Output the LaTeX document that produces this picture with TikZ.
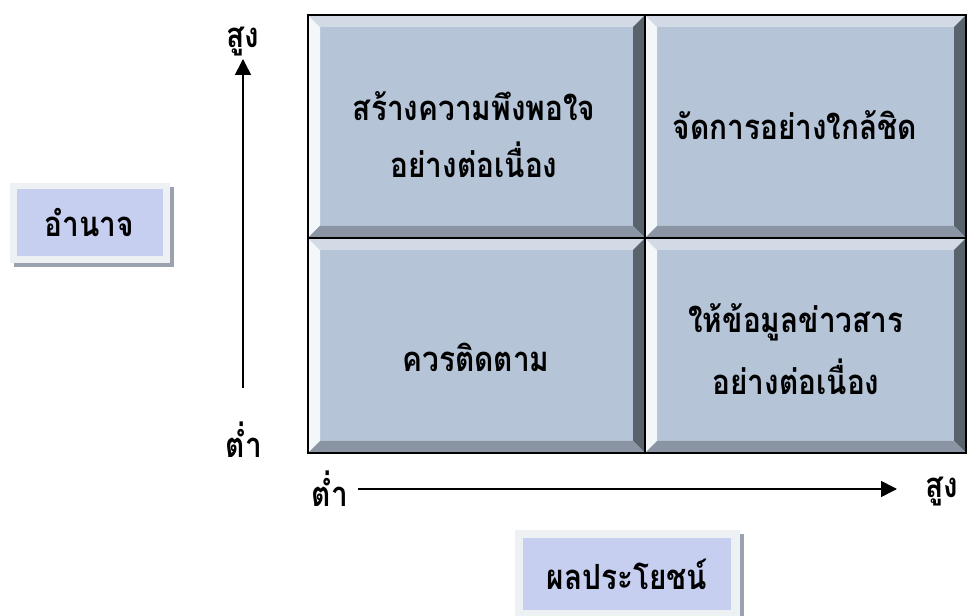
\documentclass[tikz,border=0pt]{standalone}
\usepackage{fontspec}
\newfontfamily\thaifont[Script=Thai,FakeStretch=0.86]{Loma}
\usetikzlibrary{arrows.meta}
\definecolor{tilefill}{HTML}{B5C5D7}
\definecolor{bevlight}{HTML}{F4F7FA}
\definecolor{bevtop}{HTML}{D2DBE5}
\definecolor{bevright}{HTML}{5A626C}
\definecolor{bevbottom}{HTML}{8A94A2}
\definecolor{labfill}{HTML}{C6CFF0}
\definecolor{labframe}{HTML}{EEF1F4}
\definecolor{labshadow}{HTML}{9AA2B0}
\tikzset{
  txt/.style={font=\thaifont\bfseries\fontsize{26}{32}\selectfont, text=black, align=center, inner sep=0pt},
  axis/.style={line width=1.2pt, -{Triangle[length=12pt,width=12pt]}},
}
\newcommand\bevtile[4]{% x1 y1 x2 y2 (px, y down)
  \fill[tilefill] (#1,#2) rectangle (#3,#4);
  \fill[bevlight] (#1,#2) -- (#1+12,#2+12) -- (#1+12,#4-12) -- (#1,#4) -- cycle;
  \fill[bevtop] (#1,#2) -- (#3,#2) -- (#3-12,#2+12) -- (#1+12,#2+12) -- cycle;
  \fill[bevright] (#3,#2) -- (#3,#4) -- (#3-12,#4-12) -- (#3-12,#2+12) -- cycle;
  \fill[bevbottom] (#1,#4) -- (#3,#4) -- (#3-12,#4-12) -- (#1+12,#4-12) -- cycle;
}
\begin{document}
\begin{tikzpicture}[x=0.75pt,y=-0.75pt]
\useasboundingbox (0,0) rectangle (968,616);
\fill[white] (0,0) rectangle (968,616);
% tiles
\bevtile{308}{15}{645}{238}
\bevtile{645}{15}{966}{238}
\bevtile{308}{238}{645}{453}
\bevtile{645}{238}{966}{453}
\draw[line width=1.5pt] (308,15) rectangle (966,453);
\draw[line width=1.5pt] (645,15) -- (645,453);
\draw[line width=1.5pt] (308,238) -- (966,238);
% quadrant texts
\node[txt] (q1a) at (474,106) {สร้างความพึงพอใจ};
\node[txt] (q1b) at (474,160) {อย่างต่อเนื่อง};
\node[txt] (q2) at (795,125) {จัดการอย่างใกล้ชิด};
\node[txt] (q3) at (476,357) {ควรติดตาม};
\node[txt] (q4a) at (796,322) {ให้ข้อมูลข่าวสาร};
\node[txt] (q4b) at (796,377) {อย่างต่อเนื่อง};
% y axis
\node[txt] (yhi) at (243,42) {สูง};
\node[txt] (ylo) at (244,440) {ต่ำ};
\coordinate (ys) at (243,388);
\coordinate (ye) at (243,59);
\draw[axis] (ys) -- (ye);
% x axis
\node[txt] (xlo) at (330,489) {ต่ำ};
\node[txt] (xhi) at (942,492) {สูง};
\coordinate (xs) at (358,489);
\coordinate (xe) at (897,489);
\draw[axis] (xs) -- (xe);
% label boxes
\fill[labshadow] (14,187) rectangle (174,267);
\fill[labframe] (10,183) rectangle (170,263);
\fill[labfill] (17,189) rectangle (163,256);
\node[txt] (power) at (89,222) {อำนาจ};
\fill[labshadow] (519,534) rectangle (744,616);
\fill[labframe] (515,530) rectangle (740,616);
\fill[labfill] (523,538) rectangle (731,610);
\node[txt] (benefit) at (627,574) {ผลประโยชน์};
\end{tikzpicture}
\end{document}
